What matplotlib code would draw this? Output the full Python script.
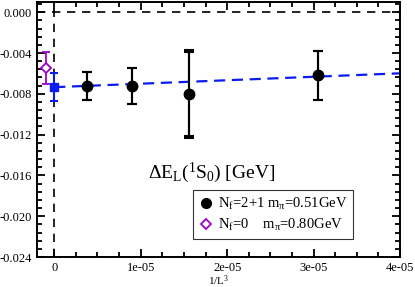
import numpy as np
import matplotlib
matplotlib.use('Agg')
import matplotlib.pyplot as plt
from matplotlib.ticker import MultipleLocator, FuncFormatter
from matplotlib.lines import Line2D

plt.rcParams['font.family'] = 'Liberation Serif'
plt.rcParams['mathtext.fontset'] = 'custom'
plt.rcParams['mathtext.rm'] = 'Liberation Serif'
plt.rcParams['mathtext.it'] = 'Liberation Serif'
plt.rcParams['mathtext.default'] = 'rm'

# Nf=2+1 points, x = 1/L^3 for L = 64, 48, 40, 32
L = np.array([64, 48, 40, 32])
x_nf3 = 1.0 / L**3
y_nf3 = [-0.0072, -0.00725, -0.0080, -0.0062]
err_nf3 = [0.00138, 0.00175, 0.0041, 0.0024]
err2_nf3 = [0.00138, 0.00175, 0.0043, 0.0024]

# infinite volume extrapolation
x_inf = [0.0]
y_inf = [-0.00735]
err_inf = [0.00135]
slope = 34.0

# quenched point
x_q = [-1.0e-6]
y_q = [-0.0055]
err_q = [0.00155]

blue = '#0a1bf0'
purple = '#a000d0'

fig = plt.figure(figsize=(4.15, 2.87), dpi=100)
ax = fig.add_axes([0.089, 0.1045, 0.875, 0.8885])

ax.axhline(0, color='black', ls=(0, (5, 4)), lw=1.2)
ax.axvline(0, color='black', ls=(0, (5, 4)), lw=1.2)

xf = np.array([0.0, 4.0e-5])
ax.plot(xf, y_inf[0] + slope * xf, color=blue, ls=(0, (5, 3)), lw=1.6)

ax.errorbar(x_nf3, y_nf3, yerr=err2_nf3, fmt='none', ecolor='black',
            elinewidth=1.5, capsize=3.5, capthick=1.5)
ax.errorbar(x_nf3, y_nf3, yerr=err_nf3, fmt='o', color='black', ms=7.5,
            ecolor='black', elinewidth=1.5, capsize=3.5, capthick=1.5)
ax.errorbar(x_inf, y_inf, yerr=err_inf, fmt='s', color=blue, ms=5.5,
            elinewidth=1.5, capsize=2.7, capthick=1.5)
ax.errorbar(x_q, y_q, yerr=err_q, fmt='D', color=purple, ms=5,
            mfc='white', mew=1.3, elinewidth=1.3, capsize=2.7, capthick=1.3)

ax.set_xlim(-2.0e-6, 4.0e-5)
ax.set_ylim(-0.024, 0.001)
ax.xaxis.set_major_locator(MultipleLocator(1e-5))
ax.xaxis.set_minor_locator(MultipleLocator(0.25e-5))
ax.yaxis.set_major_locator(MultipleLocator(0.004))
ax.yaxis.set_minor_locator(MultipleLocator(0.0008))
ax.xaxis.set_major_formatter(FuncFormatter(lambda v, p: '0' if abs(v) < 1e-12 else '%.0e' % v))
ax.yaxis.set_major_formatter(FuncFormatter(lambda v, p: '%.3f' % v))
ax.tick_params(which='both', direction='in', top=True, right=True, width=1.3, labelsize=9)
ax.tick_params(which='major', length=6)
ax.tick_params(which='minor', length=3.5)
for s in ax.spines.values():
    s.set_linewidth(1.4)

ax.set_xlabel(r'1/L$^3$', fontsize=8, labelpad=0)
ax.text(0.305, 0.33, r'$\Delta$E$_L$($^1$S$_0$) [GeV]', transform=ax.transAxes,
        fontsize=14, va='center')

handles = [Line2D([], [], ls='none', marker='o', color='black', ms=7),
           Line2D([], [], ls='none', marker='D', color=purple, mfc='white', mew=1.3, ms=5)]
labels = [r'N$_f$=2+1 m$_\pi$=0.51GeV', r'N$_f$=0    m$_\pi$=0.80GeV']
leg = ax.legend(handles, labels, loc='lower left', bbox_to_anchor=(0.43, 0.07), fontsize=10.5,
                frameon=True, fancybox=False, edgecolor='black', handletextpad=0.3,
                borderpad=0.4, labelspacing=0.35, handlelength=1.0, borderaxespad=0)
leg.get_frame().set_linewidth(0.8)

fig.savefig('out.png', dpi=100)
